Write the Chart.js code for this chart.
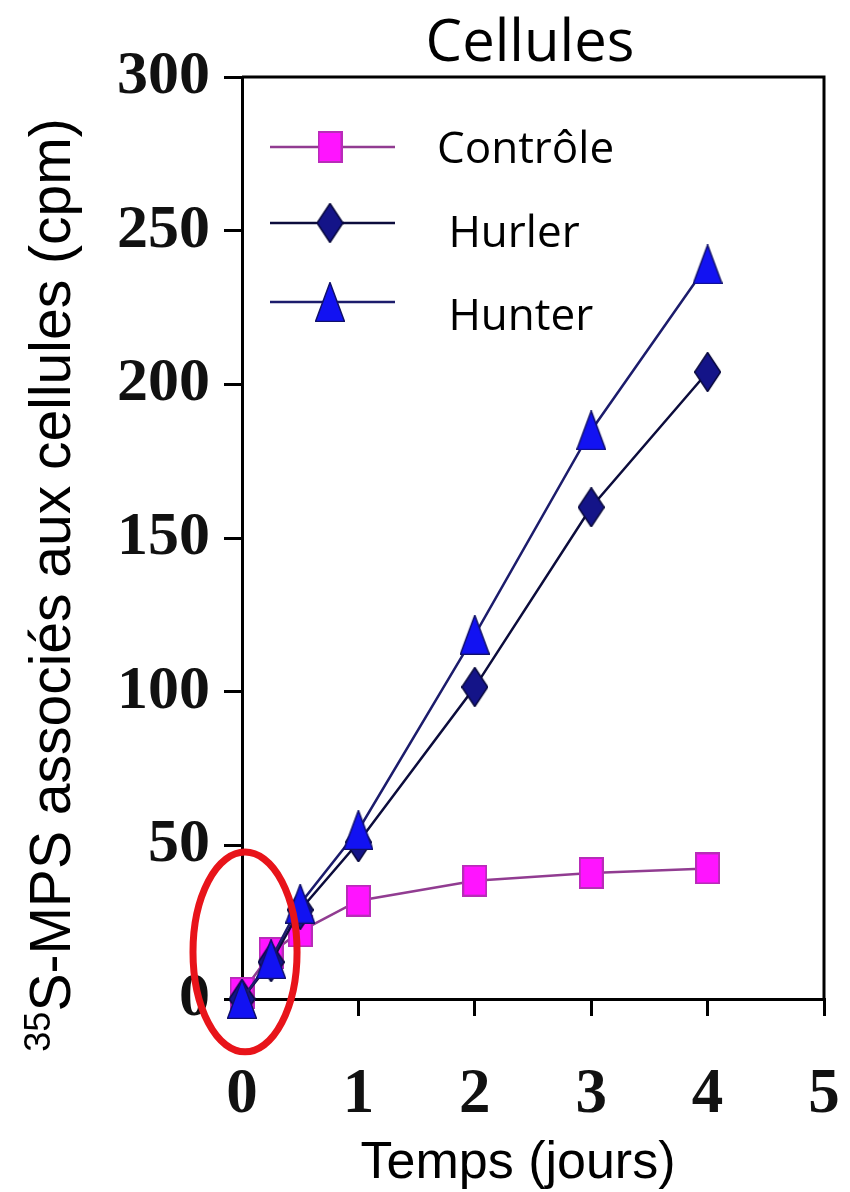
<!DOCTYPE html>
<html>
<head>
<meta charset="utf-8">
<script src="https://cdn.jsdelivr.net/npm/chart.js@4"></script>
<style>
  html, body { margin: 0; padding: 0; background: #fff; }
  #c { display: block; }
</style>
</head>
<body>
<canvas id="c" width="850" height="1192"></canvas>
<script>
// Time points (days) and cell-associated 35S-MPS (cpm)
const temps = [0, 0.25, 0.5, 1, 2, 3, 4];
const controle = [2, 15, 22, 32, 38.5, 41, 42.5];
const hurler = [0, 12, 29, 51, 101.5, 160, 204];
const hunter = [0, 13, 31, 55, 118.5, 185, 239];

const seriesNames = ['Contrôle', ' Hurler', ' Hunter'];
const yTicks = [0, 50, 100, 150, 200, 250, 300];
const xTicks = [0, 1, 2, 3, 4, 5];

const chartTitle = 'Cellules';
const xTitle = 'Temps (jours)';
const yTitleSup = '35';
const yTitleMain = 'S-MPS associés aux cellules (cpm)';

// Highlighted region around the early time points (data units)
const highlight = { x: 0.026, y: 15.3, rx: 0.447, ry: 32.5 };

// Marker glyphs drawn on small canvases
function marker(w, h, draw) {
  const c = document.createElement('canvas');
  c.width = w; c.height = h;
  draw(c.getContext('2d'), w, h);
  return c;
}
const squareMk = marker(25, 32, (g, w, h) => {
  g.fillStyle = '#FF14FF';
  g.fillRect(0, 0, w, h);
  g.strokeStyle = '#B82CB8';
  g.lineWidth = 2;
  g.strokeRect(1, 1, w - 2, h - 2);
});
const diamondMk = marker(27, 40, (g, w, h) => {
  g.beginPath();
  g.moveTo(w / 2, 0.5); g.lineTo(w - 0.5, h / 2); g.lineTo(w / 2, h - 0.5); g.lineTo(0.5, h / 2);
  g.closePath();
  g.fillStyle = '#141488';
  g.fill();
  g.strokeStyle = '#08083C';
  g.lineWidth = 1.5;
  g.stroke();
});
const triangleMk = marker(30, 40, (g, w, h) => {
  g.beginPath();
  g.moveTo(w / 2, 0.5); g.lineTo(w - 0.5, h - 0.5); g.lineTo(0.5, h - 0.5);
  g.closePath();
  g.fillStyle = '#1212F2';
  g.fill();
  g.strokeStyle = '#10106A';
  g.lineWidth = 1.5;
  g.stroke();
});

const pts = (ys) => temps.map((t, i) => ({ x: t, y: ys[i] }));

// Titles, plot frame, legend and highlight ellipse
const decorations = {
  id: 'decorations',
  afterDraw(chart) {
    const { ctx, chartArea: a, scales } = chart;
    const xs = scales.x, ys = scales.y;
    ctx.save();

    // top and right frame lines
    ctx.strokeStyle = '#000';
    ctx.lineWidth = 3;
    ctx.beginPath();
    ctx.moveTo(a.left, a.top);
    ctx.lineTo(a.right, a.top);
    ctx.lineTo(a.right, a.bottom);
    ctx.stroke();

    // chart title
    ctx.fillStyle = '#000';
    ctx.font = '58px "Open Sans"';
    ctx.textAlign = 'center';
    ctx.textBaseline = 'alphabetic';
    ctx.fillText(chartTitle, (a.left + a.right) / 2 - 3, a.top - 16);

    // x axis title
    ctx.font = '52px "Liberation Sans"';
    ctx.fillText(xTitle, (a.left + a.right) / 2 - 15, a.bottom + 179);

    // y axis title with superscript
    ctx.save();
    ctx.translate(a.left - 172, (a.top + a.bottom) / 2 + 47);
    ctx.rotate(-Math.PI / 2);
    ctx.textAlign = 'left';
    const supFont = '36px "Liberation Sans"';
    const mainFont = '57px "Liberation Sans"';
    ctx.font = supFont;
    const wSup = ctx.measureText(yTitleSup).width;
    ctx.font = mainFont;
    const wMain = ctx.measureText(yTitleMain).width;
    const x0 = -(wSup + wMain) / 2;
    ctx.font = supFont;
    ctx.fillText(yTitleSup, x0, -20);
    ctx.font = mainFont;
    ctx.fillText(yTitleMain, x0 + wSup, 0);
    ctx.restore();

    // legend
    const ds = chart.data.datasets;
    const order = [0, 1, 2];
    const lineY = [70, 146, 225];
    const textY = [86, 170, 253];
    ctx.font = '44px "Open Sans"';
    ctx.textAlign = 'left';
    order.forEach((di, k) => {
      const d = ds[di];
      const y = a.top + lineY[k];
      ctx.strokeStyle = d.borderColor;
      ctx.lineWidth = 2.5;
      ctx.beginPath();
      ctx.moveTo(a.left + 28, y);
      ctx.lineTo(a.left + 153, y);
      ctx.stroke();
      const img = d.pointStyle;
      ctx.drawImage(img, a.left + 88 - img.width / 2, y - img.height / 2);
      ctx.fillStyle = '#000';
      ctx.fillText(d.label, a.left + 195, a.top + textY[k]);
    });

    // highlight ellipse
    const cx = xs.getPixelForValue(highlight.x);
    const cy = ys.getPixelForValue(highlight.y);
    const rx = xs.getPixelForValue(highlight.x + highlight.rx) - cx;
    const ry = cy - ys.getPixelForValue(highlight.y + highlight.ry);
    ctx.strokeStyle = '#E8141A';
    ctx.lineWidth = 7;
    ctx.beginPath();
    ctx.ellipse(cx, cy, rx, ry, 0, 0, Math.PI * 2);
    ctx.stroke();

    ctx.restore();
  }
};

new Chart(document.getElementById('c'), {
  type: 'line',
  data: {
    datasets: [
      {
        label: seriesNames[0], data: pts(controle),
        borderColor: '#913C91', borderWidth: 2.5,
        pointStyle: squareMk, order: 2, clip: false
      },
      {
        label: seriesNames[1], data: pts(hurler),
        borderColor: '#0C0C3C', borderWidth: 2.5,
        pointStyle: diamondMk, order: 1, clip: false
      },
      {
        label: seriesNames[2], data: pts(hunter),
        borderColor: '#1C1C6C', borderWidth: 2.5,
        pointStyle: triangleMk, order: 0, clip: false
      }
    ]
  },
  options: {
    responsive: false,
    animation: false,
    devicePixelRatio: 1,
    layout: { padding: { top: 77, right: 26, left: 0, bottom: 0 } },
    plugins: { legend: { display: false }, tooltip: { enabled: false } },
    elements: { line: { tension: 0 } },
    scales: {
      x: {
        type: 'linear', min: 0, max: 5,
        afterFit(s) { s.height = 193; s.paddingLeft = 0; s.paddingRight = 0; },
        afterBuildTicks(s) { s.ticks = xTicks.map(v => ({ value: v })); },
        grid: { drawOnChartArea: false, drawTicks: true, tickLength: 17, color: '#000', lineWidth: 3 },
        border: { display: true, color: '#000', width: 3 },
        ticks: {
          padding: 42, color: '#111',
          font: { family: '"Liberation Serif"', weight: 'bold', size: 63 }
        }
      },
      y: {
        min: 0, max: 300,
        afterFit(s) { s.width = 242; s.paddingTop = 0; s.paddingBottom = 0; },
        afterBuildTicks(s) { s.ticks = yTicks.map(v => ({ value: v })); },
        grid: { drawOnChartArea: false, drawTicks: true, tickLength: 18, color: '#000', lineWidth: 3 },
        border: { display: true, color: '#000', width: 3 },
        ticks: {
          padding: 14, color: '#111',
          font: { family: '"Liberation Serif"', weight: 'bold', size: 62 }
        }
      }
    }
  },
  plugins: [decorations]
});
</script>
</body>
</html>
